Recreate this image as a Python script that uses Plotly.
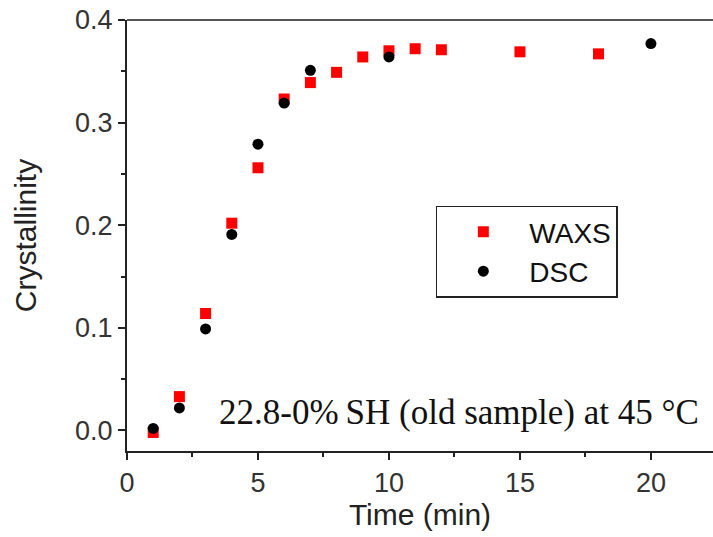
import plotly.graph_objects as go

waxs_t = [1, 2, 3, 4, 5, 6, 7, 8, 9, 10, 11, 12, 15, 18]
waxs_c = [-0.002, 0.033, 0.114, 0.202, 0.256, 0.323, 0.339, 0.349, 0.364, 0.370, 0.372, 0.371, 0.369, 0.367]
dsc_t = [1, 2, 3, 4, 5, 6, 7, 10, 20]
dsc_c = [0.002, 0.022, 0.099, 0.191, 0.279, 0.319, 0.351, 0.364, 0.377]

x_ticks = [0, 5, 10, 15, 20]
y_ticks = [0.0, 0.1, 0.2, 0.3, 0.4]
y_labels = ["0.0", "0.1", "0.2", "0.3", "0.4"]

fig = go.Figure()
fig.add_trace(go.Scatter(x=waxs_t, y=waxs_c, mode="markers", name="WAXS",
                         marker=dict(symbol="square", size=11, color="#ff0000")))
fig.add_trace(go.Scatter(x=dsc_t, y=dsc_c, mode="markers", name="DSC",
                         marker=dict(symbol="circle", size=11, color="#000000")))

sans = "Liberation Sans, Arial, sans-serif"
tickfont = dict(family=sans, size=27, color="#333333")
titlefont = dict(family=sans, size=30, color="#222222")
fig.update_layout(
    width=713, height=537,
    margin=dict(l=127, r=0, t=20, b=86),
    plot_bgcolor="white", paper_bgcolor="white",
    showlegend=True,
    legend=dict(x=0.527, y=0.5695, xanchor="left", yanchor="top",
                bgcolor="white", bordercolor="#222222", borderwidth=1.5,
                font=dict(family=sans, size=28, color="#111111"),
                itemwidth=82),
    xaxis=dict(range=[0, 22.37], tickvals=x_ticks, ticks="outside", ticklen=7, tickwidth=1.5,
               tickcolor="#222", showline=True, linecolor="#222", linewidth=2,
               showgrid=False, zeroline=False, tickfont=tickfont,
               minor=dict(dtick=2.5, ticks="outside", ticklen=4, tickwidth=1.5, tickcolor="#222"),
               title=dict(text="Time (min)", font=titlefont, standoff=4)),
    yaxis=dict(range=[-0.02, 0.4], tickvals=y_ticks, ticktext=y_labels, ticks="outside", ticklen=7,
               tickwidth=1.5, tickcolor="#222", showline=True, linecolor="#222", linewidth=2,
               showgrid=False, zeroline=False, tickfont=tickfont,
               minor=dict(dtick=0.05, ticks="outside", ticklen=4, tickwidth=1.5, tickcolor="#222"),
               title=dict(text="Crystallinity", font=titlefont, standoff=30)),
    shapes=[dict(type="line", xref="paper", yref="paper", x0=0, x1=1, y0=1, y1=1,
                 line=dict(color="#555555", width=2))],
    annotations=[dict(text="22.8-0%\u2009SH (old sample) at 45 \u00b0C", xref="paper", yref="paper",
                      x=(459 - 127) / 586, y=(451 - 412) / 431, xanchor="center", yanchor="middle",
                      showarrow=False,
                      font=dict(family="Liberation Serif, Times New Roman, serif", size=35, color="#111111"))],
)
fig.write_html("out.html")
